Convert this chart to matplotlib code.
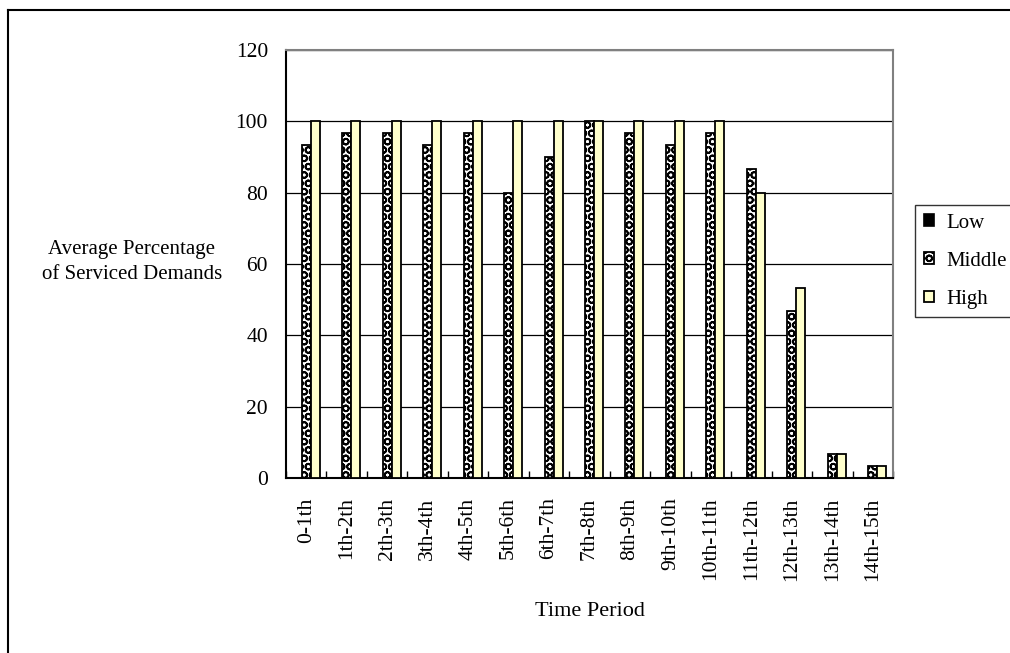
import matplotlib
matplotlib.use("Agg")
import matplotlib.pyplot as plt
import numpy as np
from matplotlib.lines import Line2D

periods = ["0-1th", "1th-2th", "2th-3th", "3th-4th", "4th-5th", "5th-6th",
           "6th-7th", "7th-8th", "8th-9th", "9th-10th", "10th-11th",
           "11th-12th", "12th-13th", "13th-14th", "14th-15th"]
low = [0, 0, 0, 0, 0, 0, 0, 0, 0, 0, 0, 0, 0, 0, 0]
middle = [93.3, 96.7, 96.7, 93.3, 96.7, 80.0, 90.0, 100.0, 96.7, 93.3,
          96.7, 86.7, 46.7, 6.7, 3.3]
high = [100, 100, 100, 100, 100, 100, 100, 100, 100, 100, 100,
        80.0, 53.3, 6.7, 3.3]
y_ticks = [0, 20, 40, 60, 80, 100, 120]

plt.rcParams["font.family"] = ["Liberation Serif", "DejaVu Serif"]
plt.rcParams["hatch.linewidth"] = 1.3

W, H = 1010, 653
fig = plt.figure(figsize=(W / 100, H / 100), dpi=100)
ax = fig.add_axes([286 / W, 1 - 478 / H, (893 - 286) / W, (478 - 50) / H])

x = np.arange(len(periods))
w = 1 / 4.5  # three bars plus a 150% gap
ax.bar(x - w, low, w, facecolor="black", edgecolor="black",
       linewidth=1.2, label="Low", zorder=3)
ax.bar(x, middle, w, facecolor="white", edgecolor="black", hatch="OO",
       linewidth=1.3, label="Middle", zorder=3)
ax.bar(x + w, high, w, facecolor="#FFFFCC", edgecolor="black",
       linewidth=1.3, label="High", zorder=3)

ax.set_xlim(-0.5, len(periods) - 0.5)
ax.set_ylim(0, 120)
ax.set_yticks(y_ticks)
ax.set_yticklabels([str(v) for v in y_ticks], fontsize=15.5)
ax.yaxis.grid(True, color="black", linewidth=0.9, zorder=1)
ax.set_axisbelow(True)
ax.tick_params(axis="y", length=0, pad=13)

ax.set_xticks(x)
ax.set_xticklabels(periods, rotation=90, fontsize=15.5, va="top")
ax.tick_params(axis="x", which="major", length=0, pad=14)
ax.set_xticks(np.arange(len(periods) + 1) - 0.5, minor=True)
ax.tick_params(axis="x", which="minor", direction="in", length=5,
               width=1, color="black")

for side in ("left", "bottom"):
    ax.spines[side].set_color("black")
    ax.spines[side].set_linewidth(1.5)
for side in ("top", "right"):
    ax.spines[side].set_color("#808080")
    ax.spines[side].set_linewidth(1.5)

fig.text(590 / W, 1 - 612 / H, "Time Period", fontsize=16,
         ha="center", va="center")
fig.text(132 / W, 1 - 262 / H, "Average Percentage\nof Serviced Demands",
         fontsize=15, ha="center", va="center", linespacing=1.45)

leg = fig.legend(loc="upper left", bbox_to_anchor=(915 / W, 1 - 205 / H),
                 fontsize=15, frameon=True, fancybox=False,
                 handlelength=0.5, handleheight=0.5, handletextpad=0.58,
                 labelspacing=0.92, borderpad=0.41, borderaxespad=0)
leg.get_frame().set_edgecolor("black")
leg.get_frame().set_linewidth(1.0)

# chart area frame
fig.add_artist(Line2D([8 / W, 8 / W], [0, 1 - 10 / H], color="black",
                      linewidth=1.5, transform=fig.transFigure))
fig.add_artist(Line2D([8 / W, 1], [1 - 10 / H, 1 - 10 / H], color="black",
                      linewidth=1.5, transform=fig.transFigure))

fig.savefig("out.png", dpi=100)
